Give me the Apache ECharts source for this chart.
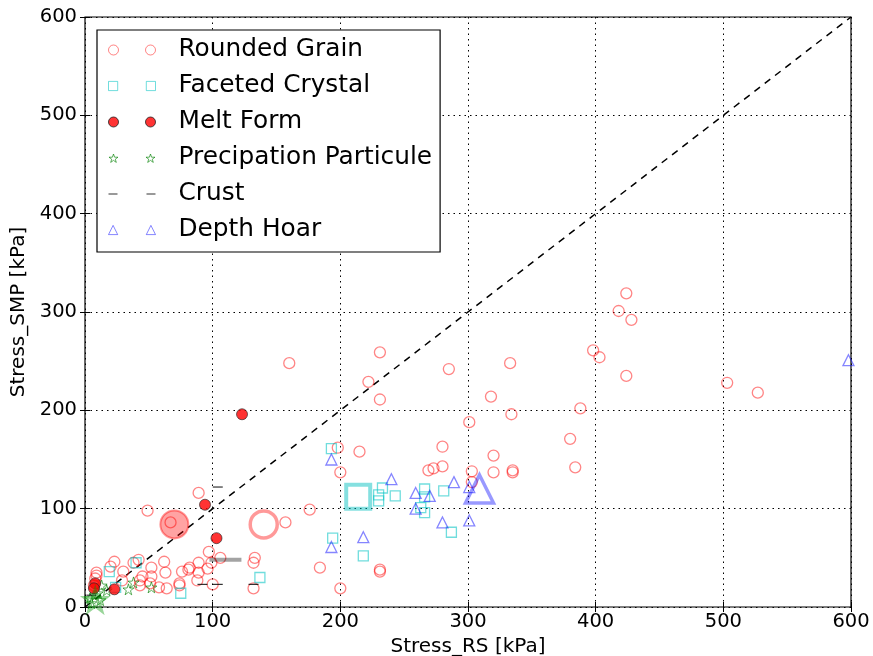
<!DOCTYPE html>
<html>
<head>
<meta charset="utf-8">
<script src="https://cdn.jsdelivr.net/npm/echarts@6/dist/echarts.min.js"></script>
<style>html,body{margin:0;padding:0;background:#fff}#chart{width:873px;height:656px}</style>
</head>
<body>
<div id="chart"></div>
<script>
// ---- data (kPa) ----
var seriesNames = ['Rounded Grain', 'Faceted Crystal', 'Melt Form', 'Precipation Particule', 'Crust', 'Depth Hoar'];
var axisTicks = [0, 100, 200, 300, 400, 500, 600];
var xAxisName = 'Stress_RS [kPa]';
var yAxisName = 'Stress_SMP [kPa]';

var roundedGrain = [
  [160,248],[231,259],[222,229],[231,211],[285,242],[333,248],[318,214],[334,196],[388,202],[301,188],
  [424,319],[418,301],[428,292],[398,261],[403,254],[424,235],[503,228],[527,218],[380,171],[384,142],
  [320,154],[303,138],[320,137],[335,139],[335,137],[303,127],[280,163],[280,143],[273,141],[269,139],
  [198,162],[215,158],[200,137],[176,99],[157,86],[184,40],[200,19],[231,38],[231,36],
  [89,116],[49,98],[67,86],[97,56],[106,50],[133,50],[132,45],[132,19],[100,23],
  [9,32],[20,41],[30,36],[38,45],[42,48],[52,40],[52,31],[63,35],[76,36],[82,40],[89,45],[89,35],
  [96,39],[99,45],[88,27],[74,24],[64,19],[43,27],[29,27],[51,24],[23,46],[62,46],[9,35],[45,31],
  [81,38],[58,20],[74,22],[43,22],[8,29],[7,22]
];
var facetedCrystal = [
  [193,161],[233,121],[230,114],[230,108],[243,113],[266,120],[266,112],[281,118],[263,101],[266,96],
  [287,76],[194,70],[218,52],[137,30],[75,14],[19,36],[40,45],[24,20]
];
var meltForm = [[123,196],[94,104],[103,70],[23,18],[8,24],[7,19]];
var precipParticle = [[34,18],[38,25],[52,20],[13,22],[8,12],[12,7],[4,9],[17,17],[5,4],[10,14]];
var crust = [[104,122],[104,23],[92,23],[132,23],[5,12]];
var depthHoar = [
  [193,150],[240,130],[259,116],[270,113],[259,100],[289,127],[301,122],[301,88],[280,86],[193,61],
  [218,71],[598,251]
];
// mean markers (large, translucent)
var roundedMean = [[140,84]];
var meltMean = [[70,84]];
var facetedMean = [[214,112]];
var depthMean = [[309,120]];
var precipMean = [[8,7]];
var crustMean = [[110,48]];
// 1:1 reference line
var oneToOne = [[0,0],[600,600]];

// ---- styling ----
var FONT = 'DejaVu Sans';
var RED = 'rgba(255,0,0,0.6)';
var CYAN = 'rgba(0,195,195,0.7)';
var BLUE = 'rgba(0,0,255,0.6)';
var GREEN = 'rgba(0,128,0,0.8)';
var STAR = 'path://M50,0 L61,35 L98,35 L68,57 L79,91 L50,70 L21,91 L32,57 L2,35 L39,35 Z';
var icons = {
  circle: 'path://M0,5 A5,5 0 1,1 10,5 A5,5 0 1,1 0,5 Z M37,5 A5,5 0 1,1 47,5 A5,5 0 1,1 37,5 Z',
  square: 'path://M0.5,0.5 L9.5,0.5 L9.5,9.5 L0.5,9.5 Z M37.5,0.5 L46.5,0.5 L46.5,9.5 L37.5,9.5 Z',
  dot: 'path://M0,5 A5,5 0 1,1 10,5 A5,5 0 1,1 0,5 Z M37,5 A5,5 0 1,1 47,5 A5,5 0 1,1 37,5 Z',
  star: 'path://M5,1 L6.1,4.2 L9.5,4.2 L6.8,6.2 L7.8,9.4 L5,7.4 L2.2,9.4 L3.2,6.2 L0.5,4.2 L3.9,4.2 Z M42,1 L43.1,4.2 L46.5,4.2 L43.8,6.2 L44.8,9.4 L42,7.4 L39.2,9.4 L40.2,6.2 L37.5,4.2 L40.9,4.2 Z M0,0 L0.01,0 Z M47,10 L47.01,10 Z',
  dash: 'path://M0,4.5 L9,4.5 L9,5.5 L0,5.5 Z M38,4.5 L47,4.5 L47,5.5 L38,5.5 Z M0,0 L0.01,0 Z M47,10 L47.01,10 Z',
  tri: 'path://M5,0.5 L9.5,9.5 L0.5,9.5 Z M42,0.5 L46.5,9.5 L37.5,9.5 Z'
};

function hollow(name, data, symbol, size, color, bw, z) {
  return { name: name, type: 'scatter', data: data, symbol: symbol, symbolSize: size, z: z || 3,
    itemStyle: { color: 'rgba(0,0,0,0)', borderColor: color, borderWidth: bw || 1.2 } };
}

var series = [
  { name: 'diag', type: 'line', data: oneToOne, symbol: 'none', z: 2,
    lineStyle: { color: '#000', width: 1.5, type: [7, 6] }, silent: true },
  hollow(seriesNames[0], roundedGrain, 'circle', 11, RED, 1.3),
  hollow(seriesNames[1], facetedCrystal, 'rect', 10, CYAN, 1.3),
  { name: seriesNames[2], type: 'scatter', data: meltForm, symbol: 'circle', symbolSize: 11, z: 4,
    itemStyle: { color: '#ff0000', borderColor: '#222', borderWidth: 0.8 } },
  hollow(seriesNames[3], precipParticle, STAR, 11, GREEN, 1),
  { name: seriesNames[4], type: 'scatter', data: crust, symbol: 'rect', symbolSize: [10, 1.2], z: 3,
    itemStyle: { color: '#000' } },
  hollow(seriesNames[5], depthHoar, 'triangle', 11, BLUE, 1.3),
  // means
  hollow('rgMean', roundedMean, 'circle', 27, 'rgba(255,0,0,0.5)', 3.5, 5),
  { name: 'mfMean', type: 'scatter', data: meltMean, symbol: 'circle', symbolSize: 28, z: 5,
    itemStyle: { color: 'rgba(255,0,0,0.45)', borderColor: 'rgba(255,0,0,0.5)', borderWidth: 2 } },
  hollow('fcMean', facetedMean, 'rect', 24, 'rgba(0,190,190,0.6)', 4, 5),
  hollow('dhMean', depthMean, 'triangle', 28, 'rgba(0,0,255,0.5)', 3.5, 5),
  hollow('ppMean', precipMean, STAR, 22, 'rgba(0,150,0,0.5)', 3, 5),
  { name: 'crMean', type: 'scatter', data: crustMean, symbol: 'rect', symbolSize: [32, 4], z: 5,
    itemStyle: { color: 'rgba(0,0,0,0.45)' } }
];

var iconOrder = ['circle', 'square', 'dot', 'star', 'dash', 'tri'];
var legendData = seriesNames.map(function (n, i) { return { name: n, icon: icons[iconOrder[i]] }; });

var baseAxis = { min: axisTicks[0], max: axisTicks[axisTicks.length - 1], interval: axisTicks[1] - axisTicks[0] };

var option = {
  animation: false,
  backgroundColor: '#fff',
  grid: { left: 85, right: 22, top: 17, bottom: 49, containLabel: false, outerBoundsMode: 'none',
    show: true, borderColor: '#000', borderWidth: 1.2, backgroundColor: 'transparent' },
  legend: {
    data: legendData, orient: 'vertical', left: 97, top: 30,
    padding: [7, 8, 9, 11], itemGap: 10, itemWidth: 47, itemHeight: 10,
    backgroundColor: '#fff', borderColor: '#000', borderWidth: 1.2,
    textStyle: { fontFamily: FONT, fontSize: 24.8, color: '#000', lineHeight: 26, padding: [0, 0, 0, 18] },
    itemStyle: { borderWidth: 1 }, selectedMode: false, z: 10
  },
  xAxis: [
    Object.assign({ type: 'value', position: 'bottom', name: xAxisName, nameLocation: 'middle', nameGap: 28,
      nameTextStyle: { fontFamily: FONT, fontSize: 20, color: '#000' },
      axisLine: { show: false }, axisTick: { show: true, inside: true, length: 5, lineStyle: { color: '#000' } },
      axisLabel: { fontFamily: FONT, fontSize: 19.5, color: '#000', margin: 5 },
      splitLine: { show: true, lineStyle: { color: '#000', type: [1.5, 4], width: 1 } } }, baseAxis),
    Object.assign({ type: 'value', position: 'top', axisLine: { show: false },
      axisTick: { show: true, inside: true, length: 5, lineStyle: { color: '#000' } },
      axisLabel: { show: false }, splitLine: { show: false } }, baseAxis)
  ],
  yAxis: [
    Object.assign({ type: 'value', position: 'left', name: yAxisName, nameLocation: 'middle', nameGap: 55,
      nameTextStyle: { fontFamily: FONT, fontSize: 20, color: '#000' },
      axisLine: { show: false }, axisTick: { show: true, inside: true, length: 5, lineStyle: { color: '#000' } },
      axisLabel: { fontFamily: FONT, fontSize: 19.5, color: '#000', margin: 8 },
      splitLine: { show: true, lineStyle: { color: '#000', type: [1.5, 4], width: 1 } } }, baseAxis),
    Object.assign({ type: 'value', position: 'right', axisLine: { show: false },
      axisTick: { show: true, inside: true, length: 5, lineStyle: { color: '#000' } },
      axisLabel: { show: false }, splitLine: { show: false } }, baseAxis)
  ],
  series: series
};

var chart = echarts.init(document.getElementById('chart'), null, { renderer: 'canvas' });
chart.setOption(option);
</script>
</body>
</html>
